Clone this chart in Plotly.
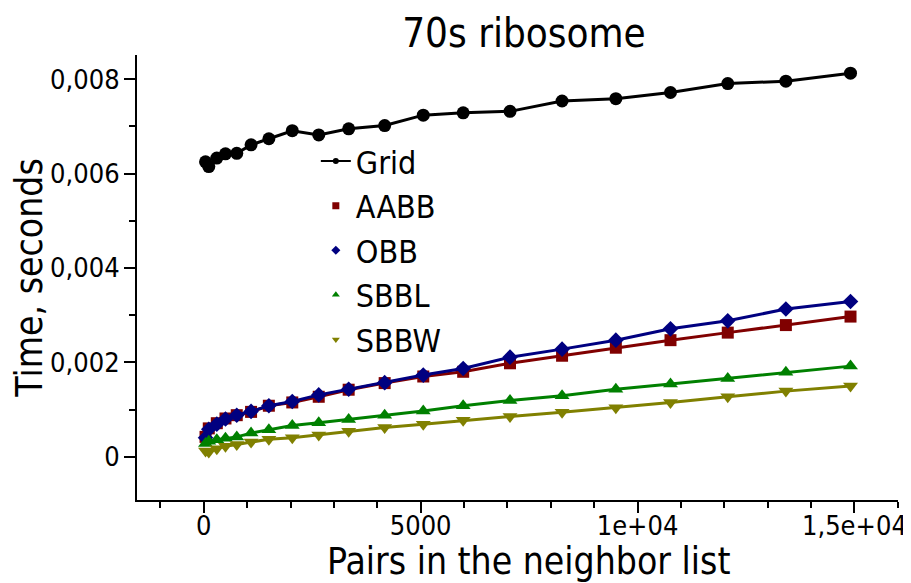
import plotly.graph_objects as go

# ---- data ----
pairs = [40, 115, 300, 500, 760, 1090, 1500, 2040, 2650, 3340, 4170, 5060,
         5980, 7060, 8260, 9500, 10760, 12080, 13420, 14910]

grid = [0.00625, 0.00615, 0.00633, 0.00642, 0.00643, 0.00661, 0.00674, 0.00691,
        0.00682, 0.00695, 0.00702, 0.00724, 0.00729, 0.00732, 0.00754, 0.00759,
        0.00772, 0.00791, 0.00796, 0.00813]
aabb = [0.00042, 0.00060, 0.00071, 0.00081, 0.00088, 0.00095, 0.00108, 0.00115,
        0.00127, 0.00142, 0.00156, 0.00170, 0.00180, 0.00198, 0.00214, 0.00231,
        0.00247, 0.00263, 0.00279, 0.00297]
obb = [0.00040, 0.00058, 0.00069, 0.00080, 0.00088, 0.00096, 0.00108, 0.00117,
       0.00131, 0.00143, 0.00157, 0.00173, 0.00187, 0.00211, 0.00228, 0.00247,
       0.00271, 0.00288, 0.00313, 0.00329]
sbbl = [0.00028, 0.00033, 0.00036, 0.00039, 0.00042, 0.00050, 0.00057, 0.00066,
        0.00072, 0.00079, 0.00088, 0.00097, 0.00108, 0.00119, 0.00129, 0.00143,
        0.00154, 0.00166, 0.00179, 0.00192]
sbbw = [0.00012, 0.00010, 0.00017, 0.00022, 0.00026, 0.00031, 0.00037, 0.00040,
        0.00046, 0.00054, 0.00062, 0.00069, 0.00077, 0.00085, 0.00094, 0.00104,
        0.00115, 0.00127, 0.00139, 0.00150]

series_names = ["Grid", "AABB", "OBB", "SBBL", "SBBW"]
series_values = [grid, aabb, obb, sbbl, sbbw]

x_tickvals = [0, 5000, 10000, 15000]
x_ticktext = ["0", "5000", "1e+04", "1,5e+04"]
y_tickvals = [0, 0.002, 0.004, 0.006, 0.008]
y_ticktext = ["0", "0,002", "0,004", "0,006", "0,008"]

x_title = "Pairs in the neighbor list"
y_title = "Time, seconds"
chart_title = "70s ribosome"

# ---- styles ----
colors = ["#000000", "#800000", "#000080", "#008000", "#808000"]
symbols = ["circle", "square", "diamond", "triangle-up", "triangle-down"]
sizes = [13, 12, 12, 13, 13]
legend_sizes = [6, 7, 7, 7, 7]
FONT = "DejaVu Sans Condensed, DejaVu Sans, sans-serif"

fig = go.Figure()
for name, vals, c, s, sz in zip(series_names, series_values, colors, symbols, sizes):
    fig.add_trace(go.Scatter(
        x=pairs, y=vals, mode="lines+markers", name=name, showlegend=False,
        line=dict(color=c, width=3),
        marker=dict(symbol=s, size=sz, color=c, line=dict(width=0)),
    ))

# legend entries (small symbols, like the reference)
for i, (name, c, s, lsz) in enumerate(zip(series_names, colors, symbols, legend_sizes)):
    fig.add_trace(go.Scatter(
        x=[None], y=[None], name=name,
        mode="lines+markers" if i == 0 else "markers",
        line=dict(color=c, width=2),
        marker=dict(symbol=s, size=lsz, color=c, line=dict(width=0)),
    ))

axis_common = dict(
    showline=True, linecolor="black", linewidth=2,
    ticks="outside", ticklen=11, tickwidth=2, tickcolor="black",
    showgrid=False, zeroline=False, automargin=False,
    tickfont=dict(family=FONT, size=27, color="black"),
    title_font=dict(family=FONT, size=37, color="black"),
)

fig.update_xaxes(
    **axis_common,
    range=[-1540, 16005],
    tickmode="array", tickvals=x_tickvals, ticktext=x_ticktext,
    ticklabelstandoff=-10,
    minor=dict(ticks="outside", ticklen=6, tickwidth=2, tickcolor="black",
               dtick=1000, tick0=0),
)
fig.update_yaxes(
    **axis_common,
    range=[-0.000918, 0.008515],
    tickmode="array", tickvals=y_tickvals, ticktext=y_ticktext,
    ticklabelstandoff=-1,
    minor=dict(ticks="outside", ticklen=6, tickwidth=2, tickcolor="black",
               dtick=0.001, tick0=0),
    title_text=y_title, title_standoff=10,
)

# x-axis title placed as an annotation so it can be centred like the reference
fig.add_annotation(
    text=x_title, xref="paper", yref="paper", x=0.514, y=-0.139,
    xanchor="center", yanchor="middle", showarrow=False,
    font=dict(family=FONT, size=37, color="black"),
)

# the page body has an 8px margin, so the figure is 8px smaller than the window
fig.update_layout(
    width=903, height=575,
    margin=dict(l=129, r=13, t=47, b=83),
    paper_bgcolor="white", plot_bgcolor="white",
    separators=", ",
    title=dict(text=chart_title, xref="paper", x=0.5085, xanchor="center",
               yref="container", y=0.9565, yanchor="middle",
               font=dict(family=FONT, size=40, color="black")),
    legend=dict(x=0.235, y=0.823, xanchor="left", yanchor="top",
                bgcolor="rgba(0,0,0,0)", borderwidth=0,
                font=dict(family=FONT, size=32, color="black"),
                itemwidth=30, tracegroupgap=0),
    showlegend=True,
)

fig.write_html("out.html")
